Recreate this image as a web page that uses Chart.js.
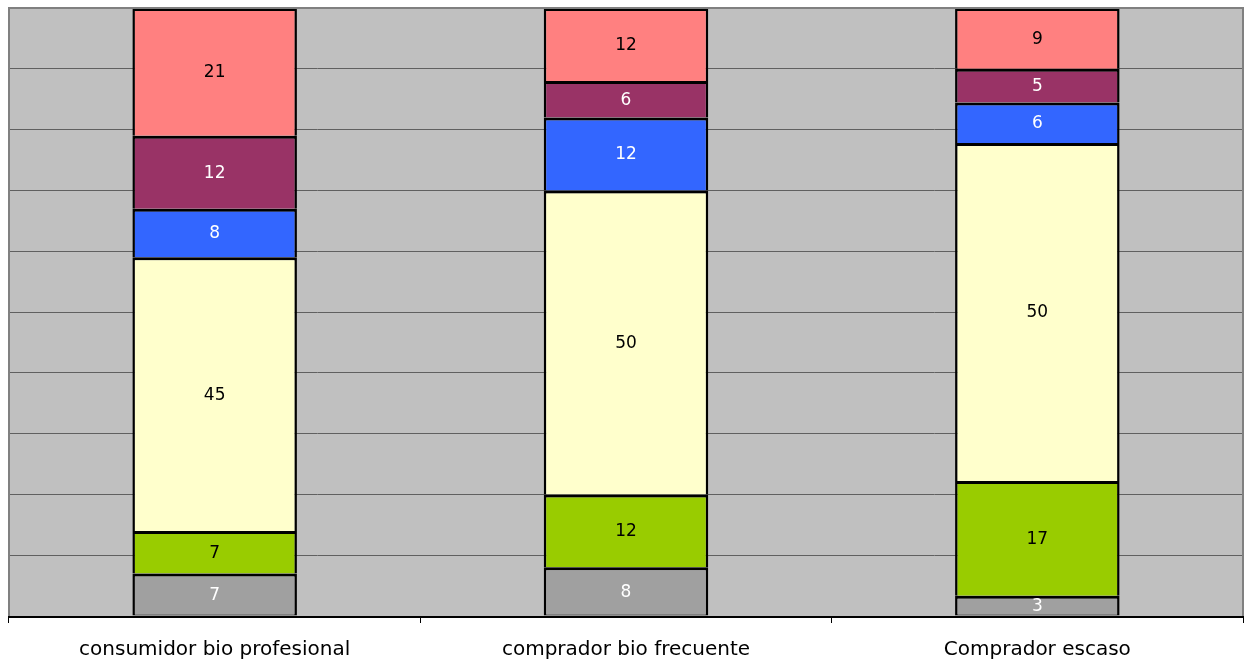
<!DOCTYPE html>
<html>
<head>
<meta charset="utf-8">
<script src="https://cdn.jsdelivr.net/npm/chart.js@4"></script>
<style>
  html, body { margin: 0; padding: 0; background: #fff; }
  #wrap { width: 1250px; height: 660px; }
</style>
</head>
<body>
<div id="wrap"><canvas id="chart" width="1250" height="660"></canvas></div>
<script>
// ── Data ────────────────────────────────────────────────────
const categories = ['consumidor bio profesional', 'comprador bio frecuente', 'Comprador escaso'];

// stacked bottom → top
const serie1 = [7, 8, 3];    // gray
const serie2 = [7, 12, 17];  // green
const serie3 = [45, 50, 50]; // pale yellow
const serie4 = [8, 12, 6];   // blue
const serie5 = [12, 6, 5];   // purple
const serie6 = [21, 12, 9];  // pink

const seriesNames  = ['Serie 1', 'Serie 2', 'Serie 3', 'Serie 4', 'Serie 5', 'Serie 6'];
const seriesValues = [serie1, serie2, serie3, serie4, serie5, serie6];
const seriesColors = ['#A0A0A0', '#99CC00', '#FFFFCC', '#3366FF', '#993366', '#FF8080'];
const labelColors  = ['#FFFFFF', '#000000', '#000000', '#FFFFFF', '#FFFFFF', '#000000'];

const yTicks = [0, 10, 20, 30, 40, 50, 60, 70, 80, 90, 100];

// 100% stacked: each column normalised to its total
const totals = categories.map((_, i) => seriesValues.reduce((s, arr) => s + arr[i], 0));

const datasets = seriesValues.map((vals, k) => ({
  label: seriesNames[k],
  data: vals.map((v, i) => v / totals[i] * 100),
  raw: vals,
  backgroundColor: seriesColors[k],
  borderColor: '#000000',
  borderWidth: { top: 3, left: 2.5, right: 2.5, bottom: k === 0 ? 1 : 0 },
  borderSkipped: false,
  barPercentage: 0.4,
  categoryPercentage: 1.0,
}));

// ── Plugins ────────────────────────────────────────────────
const plotBackground = {
  id: 'plotBackground',
  beforeDraw(chart) {
    const { ctx, chartArea: a } = chart;
    ctx.save();
    ctx.fillStyle = '#C0C0C0';
    ctx.fillRect(a.left, a.top, a.right - a.left, a.bottom - a.top);
    ctx.restore();
  },
  afterDraw(chart) {
    const { ctx, chartArea: a } = chart;
    ctx.save();
    ctx.strokeStyle = '#808080';
    ctx.lineWidth = 2;
    ctx.beginPath();
    ctx.moveTo(a.left, a.bottom);
    ctx.lineTo(a.left, a.top);
    ctx.lineTo(a.right, a.top);
    ctx.lineTo(a.right, a.bottom);
    ctx.stroke();
    ctx.strokeStyle = '#000000';
    ctx.lineWidth = 2;
    ctx.beginPath();
    ctx.moveTo(a.left, a.bottom + 1);
    ctx.lineTo(a.right, a.bottom + 1);
    ctx.stroke();
    ctx.restore();
  },
};

const valueLabels = {
  id: 'valueLabels',
  afterDatasetsDraw(chart) {
    const { ctx } = chart;
    ctx.save();
    ctx.font = '17px "DejaVu Sans", Verdana, sans-serif';
    ctx.textAlign = 'center';
    ctx.textBaseline = 'middle';
    chart.data.datasets.forEach((ds, k) => {
      const meta = chart.getDatasetMeta(k);
      meta.data.forEach((bar, i) => {
        const { x, y, base } = bar.getProps(['x', 'y', 'base'], true);
        ctx.fillStyle = labelColors[k];
        ctx.fillText(String(ds.raw[i]), x, (y + base) / 2 + 1);
      });
    });
    ctx.restore();
  },
};

// ── Chart ──────────────────────────────────────────────────
new Chart(document.getElementById('chart'), {
  type: 'bar',
  data: { labels: categories, datasets },
  options: {
    responsive: false,
    animation: false,
    layout: { padding: { left: 9, right: 7, top: 8, bottom: -17 } },
    plugins: { legend: { display: false }, tooltip: { enabled: false } },
    scales: {
      x: {
        stacked: true,
        grid: { offset: true, drawOnChartArea: false, color: '#000000', tickLength: 7, tickWidth: 1 },
        border: { display: false },
        ticks: {
          color: '#000000',
          padding: 15,
          maxRotation: 0,
          font: { family: '"DejaVu Sans", Verdana, sans-serif', size: 20 },
        },
      },
      y: {
        stacked: true,
        min: yTicks[0],
        max: yTicks[yTicks.length - 1],
        afterBuildTicks: scale => { scale.ticks = yTicks.map(v => ({ value: v })); },
        grid: { color: '#606060', lineWidth: 1, drawTicks: false },
        border: { display: false },
        ticks: { display: false },
      },
    },
  },
  plugins: [plotBackground, valueLabels],
});
</script>
</body>
</html>
